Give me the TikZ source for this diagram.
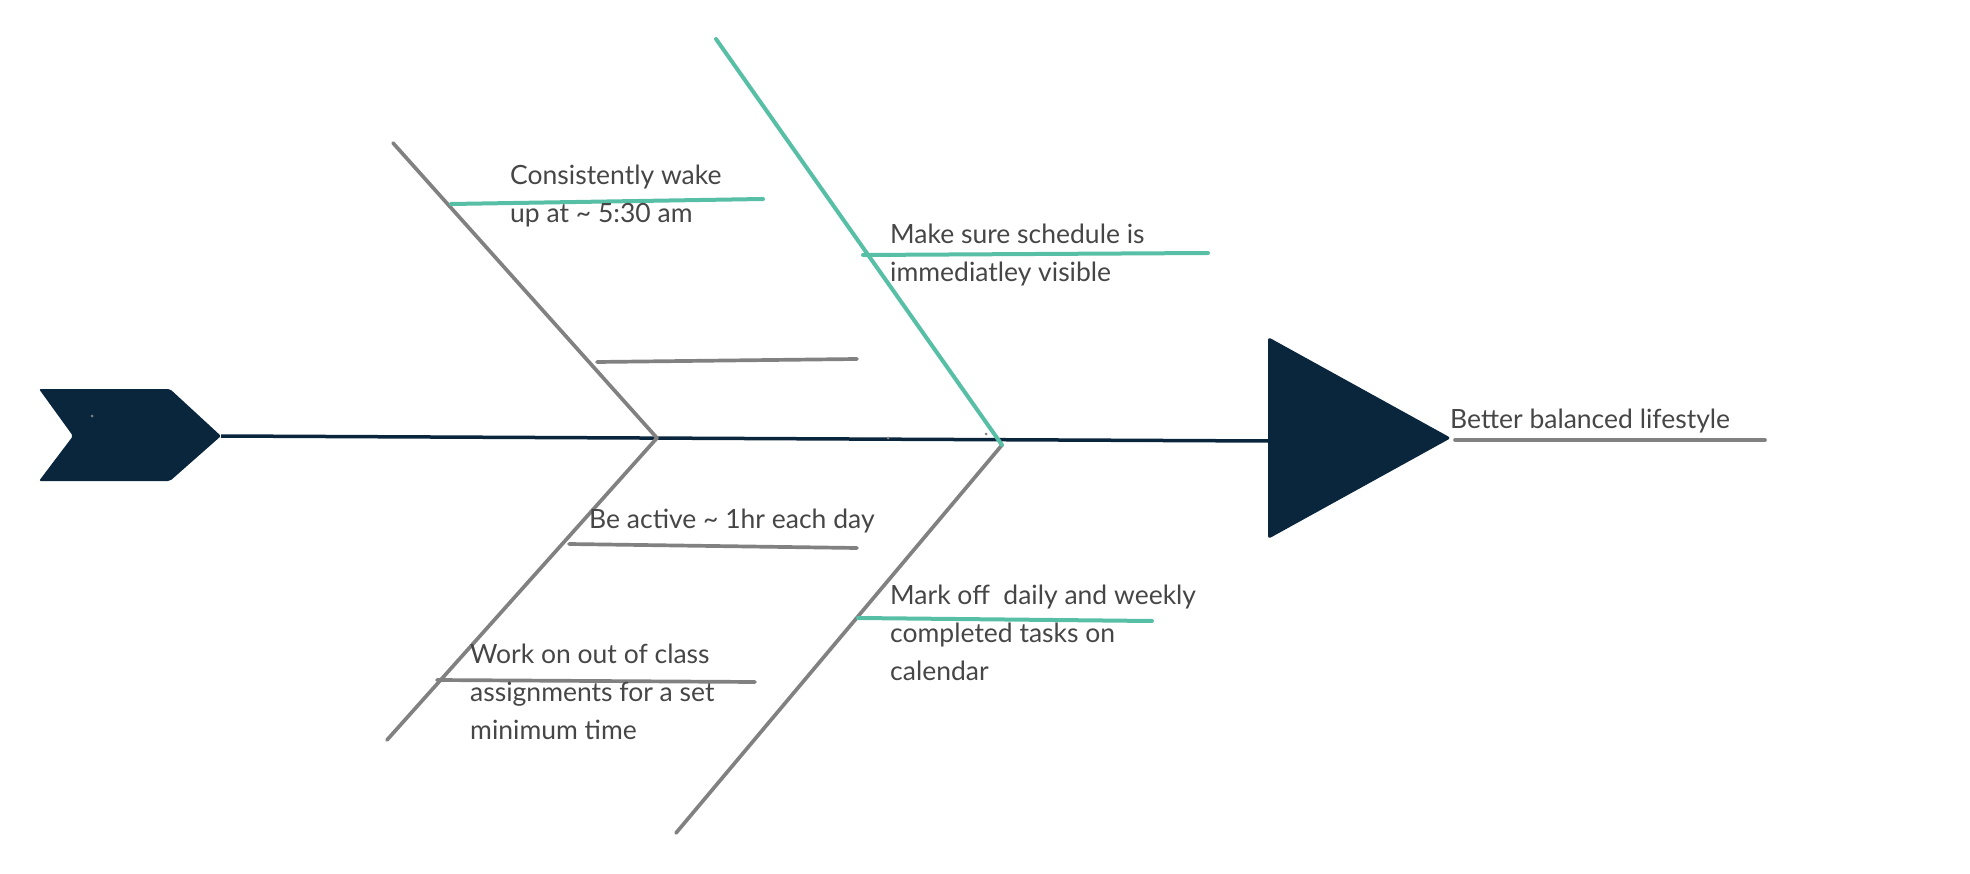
\documentclass[tikz,border=0pt]{standalone}
\usepackage{fontspec}
\setmainfont{Lato}
\definecolor{navy}{HTML}{0A263D}
\definecolor{bone}{HTML}{818181}
\definecolor{teal2}{HTML}{57BFA6}
\definecolor{txt}{HTML}{464646}
\tikzset{
  graybone/.style={draw=bone, line width=3.7pt, line cap=round},
  tealbone/.style={draw=teal2, line width=4pt, line cap=round},
  lbl/.style={anchor=base west, inner sep=0pt, align=left, text=txt,
    font=\fontsize{26.5}{38}\selectfont},
  dotmark/.style={circle, fill=bone, inner sep=0pt, minimum size=3pt}
}
\begin{document}
\begin{tikzpicture}[x=1pt, y=-1pt]
\useasboundingbox (0,0) rectangle (1970,874);
% tail chevron
\node[draw=none, inner sep=0pt] (tailtip) at (221,436) {};
\fill[navy, rounded corners=2pt] (39,389) -- (170,389) -- (tailtip.center) -- (170,481) -- (39,481) -- (73,436) -- cycle;
\node[dotmark] (d1) at (92,416) {};
% head triangle
\coordinate (headL) at (1268,441);
\coordinate (headtip) at (1451,438);
\fill[navy, rounded corners=3pt] (1268,337) -- (headtip) -- (1268,539) -- cycle;
% spine
\draw[navy, line width=3.5pt] (tailtip.center) -- (headL);
\coordinate (j1) at (657,438);
\coordinate (j2) at (1002,445);
\node[dotmark] (d2) at (888,438) {};
\node[dotmark] (d3) at (986,434) {};
% main bones
\coordinate (ul) at (393,143);
\coordinate (ll) at (387,740);
\coordinate (ur) at (716,39);
\coordinate (lr) at (676,833);
\draw[graybone] (ul) -- (j1);
\draw[graybone] (j1) -- (ll);
\draw[graybone] (j2) -- (lr);
\draw[tealbone] (ur) -- (j2);
% sub bones
\coordinate (s1a) at (451,204); \coordinate (s1b) at (763,199);
\coordinate (s2a) at (597,362); \coordinate (s2b) at (857,359);
\coordinate (s3a) at (863,255); \coordinate (s3b) at (1208,253);
\coordinate (s4a) at (569,544); \coordinate (s4b) at (857,548);
\coordinate (s5a) at (437,680); \coordinate (s5b) at (755,682);
\coordinate (s6a) at (858,618); \coordinate (s6b) at (1152,621);
\coordinate (r1a) at (1455,440); \coordinate (r1b) at (1765,440);
\draw[tealbone] (s1a) -- (s1b);
\draw[graybone] (s2a) -- (s2b);
\draw[tealbone] (s3a) -- (s3b);
\draw[graybone] (s4a) -- (s4b);
\draw[graybone] (s5a) -- (s5b);
\draw[tealbone] (s6a) -- (s6b);
\draw[graybone] (r1a) -- (r1b);
% labels (anchored at the baseline of their last line)
\node[lbl] (t1) at (510,223) {Consistently wake\\up at \textasciitilde{} 5:30 am};
\node[lbl] (t3) at (890,282) {Make sure schedule is\\immediatley visible};
\node[lbl] (t4) at (589,528) {Be active \textasciitilde{} 1hr each day};
\node[lbl] (t6) at (890,680) {Mark off\ \ daily and weekly\\completed tasks on\\calendar};
\node[lbl] (t5) at (470,739) {Work on out of class\\assignments for a set\\minimum time};
\node[lbl] (t7) at (1450,428) {Better balanced lifestyle};
\end{tikzpicture}
\end{document}
